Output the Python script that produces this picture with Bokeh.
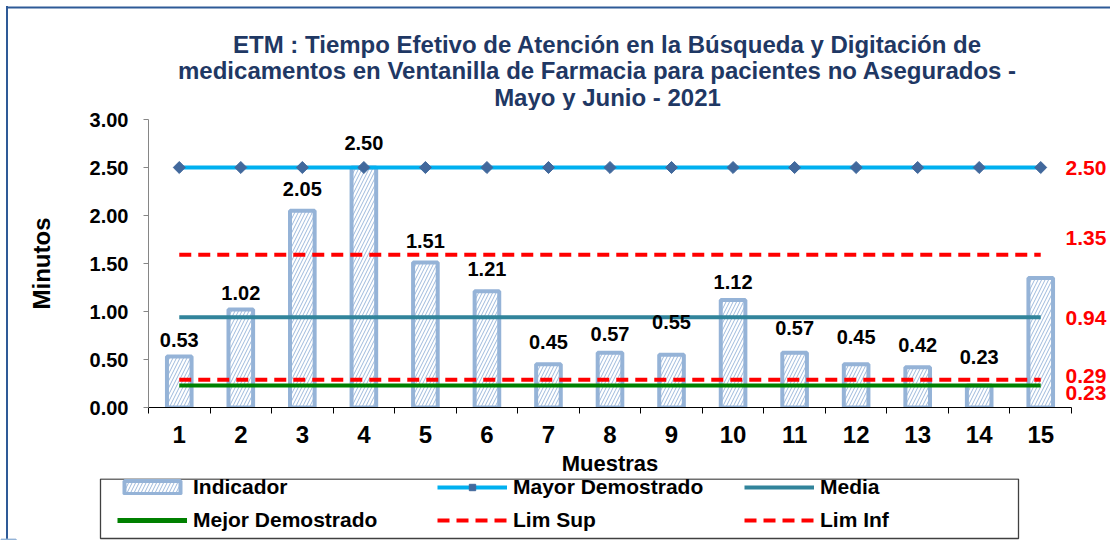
from bokeh.plotting import figure
from bokeh.layouts import column
from bokeh.models import (FixedTicker, Legend, LegendItem, ColumnDataSource, LinearAxis,
                          NumeralTickFormatter, LabelSet, Range1d)
from bokeh.core.properties import value
from bokeh.embed import file_html
from bokeh.resources import INLINE

# ---------------- data ----------------
muestras = [1, 2, 3, 4, 5, 6, 7, 8, 9, 10, 11, 12, 13, 14, 15]
indicador = [0.53, 1.02, 2.05, 2.50, 1.51, 1.21, 0.45, 0.57, 0.55, 1.12, 0.57, 0.45, 0.42, 0.23, 1.35]
indicador_labels = ["0.53", "1.02", "2.05", "2.50", "1.51", "1.21", "0.45", "0.57", "0.55",
                    "1.12", "0.57", "0.45", "0.42", "0.23", ""]
mayor_demostrado = [2.50, 2.50, 2.50, 2.50, 2.50, 2.50, 2.50, 2.50, 2.50, 2.50, 2.50, 2.50, 2.50, 2.50, 2.50]
media = [0.94, 0.94, 0.94, 0.94, 0.94, 0.94, 0.94, 0.94, 0.94, 0.94, 0.94, 0.94, 0.94, 0.94, 0.94]
mejor_demostrado = [0.23, 0.23, 0.23, 0.23, 0.23, 0.23, 0.23, 0.23, 0.23, 0.23, 0.23, 0.23, 0.23, 0.23, 0.23]
lim_sup = [1.59, 1.59, 1.59, 1.59, 1.59, 1.59, 1.59, 1.59, 1.59, 1.59, 1.59, 1.59, 1.59, 1.59, 1.59]
lim_inf = [0.29, 0.29, 0.29, 0.29, 0.29, 0.29, 0.29, 0.29, 0.29, 0.29, 0.29, 0.29, 0.29, 0.29, 0.29]
right_labels = ["2.50", "1.35", "0.94", "0.29", "0.23"]
y_ticks = [0.0, 0.5, 1.0, 1.5, 2.0, 2.5, 3.0]
title_lines = ["ETM : Tiempo Efetivo de Atención en la Búsqueda y Digitación de",
               "medicamentos en Ventanilla de Farmacia   para pacientes no Asegurados  -",
               "Mayo y Junio - 2021"]

# ---------------- placement / style (not data) ----------------
FONT = "Liberation Sans"
label_offsets = [17, 17, 22, 25, 22, 22, 22, 19, 33, 18, 25, 27, 22, 28, 22]   # px above bar tops
right_label_pos = [2.50, 1.77, 0.93, 0.33, 0.146]                             # y where the red labels sit
title_x = [607, 607, 607]
title_y = [44, 70, 97]
BAR_LINE = "#95B3D7"
BAR_HATCH = "#9DB9DC"
RED = "#FF0000"
DASH = "12 7"
FRAME_BLUE = "#2E5A97"


def strip(height, yr):
    f = figure(width=1110, height=height, output_backend="svg", toolbar_location=None, title=None,
               x_range=Range1d(0, 1110), y_range=yr, min_border=0,
               x_axis_location=None, y_axis_location=None)
    f.frame_align = False
    f.outline_line_color = None
    f.xgrid.visible = False
    f.ygrid.visible = False
    f.background_fill_color = None
    f.border_fill_color = None
    return f


# ---------------- title strip (page pixel coordinates, y downwards) ----------------
tf = strip(110, Range1d(110, 0))
tf.segment(x0=[6], y0=[7], x1=[1110], y1=[7], line_color=FRAME_BLUE, line_width=2)
tf.text(x=title_x, y=title_y, text=title_lines, text_align="center", text_baseline="middle",
        text_font=value(FONT), text_font_style="bold", text_font_size="24px",
        text_color="#1F3864")

# ---------------- main chart ----------------
p = figure(width=1110, height=368, output_backend="svg", toolbar_location=None, title=None,
           x_range=(0.5, 15.5), y_range=(0, 3.0),
           min_border_left=148, min_border_right=39, min_border_top=9, min_border_bottom=71)
p.frame_align = False
p.outline_line_color = None
p.xgrid.visible = False
p.ygrid.visible = False
p.background_fill_color = "white"
p.border_fill_color = None

src = ColumnDataSource(dict(x=muestras, top=indicador, lab=indicador_labels, off=label_offsets,
                            mayor=mayor_demostrado, media=media, mejor=mejor_demostrado,
                            sup=lim_sup, inf=lim_inf))

bar_style = dict(fill_color="white", line_color=BAR_LINE, line_width=4, hatch_pattern="/",
                 hatch_color=BAR_HATCH, hatch_scale=7, hatch_weight=1)
sup_style = dict(line_color=RED, line_width=4, line_dash=DASH)
mej_style = dict(line_color="#008000", line_width=4)
med_style = dict(line_color="#31849B", line_width=4)
may_style = dict(line_color="#00B0F0", line_width=4)
mk = dict(marker="square", size=8.5, angle=0.785398, fill_color="#41689C", line_color="#41689C")

p.vbar(x="x", top="top", width=0.40, source=src, **bar_style)
p.line("x", "sup", source=src, **sup_style)
p.line("x", "inf", source=src, **sup_style)
p.line("x", "mejor", source=src, **mej_style)
p.line("x", "media", source=src, **med_style)
p.line("x", "mayor", source=src, **may_style)
p.scatter("x", "mayor", source=src, **mk)

p.add_layout(LabelSet(x="x", y="top", text="lab", source=src, text_align="center",
                      text_baseline="middle", y_offset="off", text_font=value(FONT),
                      text_font_style="bold", text_font_size="20px", text_color="black"))

# axes
p.yaxis.ticker = FixedTicker(ticks=y_ticks)
p.yaxis.formatter = NumeralTickFormatter(format="0.00")
p.yaxis.axis_label = "Minutos"
p.yaxis.axis_line_color = "#868686"
p.yaxis.major_tick_line_color = "#868686"
p.yaxis.major_tick_in = 0
p.yaxis.major_tick_out = 5
p.yaxis.minor_tick_line_color = None
p.yaxis.major_label_standoff = 15
p.yaxis.axis_label_standoff = 32
for ax in (p.xaxis, p.yaxis):
    ax.major_label_text_font = FONT
    ax.major_label_text_font_style = "bold"
    ax.major_label_text_color = "black"
    ax.axis_label_text_font = FONT
    ax.axis_label_text_font_style = "bold"
    ax.axis_label_text_color = "black"
p.yaxis.major_label_text_font_size = "20px"
p.yaxis.axis_label_text_font_size = "24px"

p.xaxis.ticker = FixedTicker(ticks=muestras, minor_ticks=[m - 0.5 for m in muestras] + [15.5])
p.xaxis.axis_label = "Muestras"
p.xaxis.axis_line_color = "black"
p.xaxis.major_tick_line_color = None
p.xaxis.major_tick_in = 0
p.xaxis.major_tick_out = 6
p.xaxis.minor_tick_line_color = "black"
p.xaxis.minor_tick_in = 0
p.xaxis.minor_tick_out = 6
p.xaxis.major_label_standoff = 12
p.xaxis.axis_label_standoff = 5
p.xaxis.major_label_text_font_size = "24px"
p.xaxis.axis_label_text_font_size = "22px"

# red reference values on the right
rax = LinearAxis(ticker=FixedTicker(ticks=right_label_pos),
                 major_label_overrides=dict(zip(right_label_pos, right_labels)),
                 axis_line_color=None, major_tick_line_color=None, minor_tick_line_color=None,
                 major_tick_in=0, major_tick_out=0, major_label_standoff=-6,
                 major_label_text_font=FONT, major_label_text_font_style="bold",
                 major_label_text_font_size="21px", major_label_text_color=RED)
p.add_layout(rax, "right")

# ---------------- legend strip (x in page pixels) ----------------
lf = strip(62, Range1d(100, 162))
lf.quad(left=[100], right=[1018], bottom=[102], top=[161.5], fill_color="white",
        line_color="#404040", line_width=1.3)

# legend glyph renderers (same data; they fall below this strip's visible range)
g_ind = lf.vbar(x="x", top="top", width=0.4, source=src, **bar_style)
g_may_l = lf.line("x", "mayor", source=src, **may_style)
g_may_s = lf.scatter("x", "mayor", source=src, **mk)
g_med = lf.line("x", "media", source=src, **med_style)
g_mej = lf.line("x", "mejor", source=src, line_color="#008000", line_width=5)
g_sup = lf.line("x", "sup", source=src, **sup_style)
g_inf = lf.line("x", "inf", source=src, **sup_style)

leg_common = dict(orientation="vertical", glyph_width=70, glyph_height=16, label_height=20,
                  label_standoff=6, spacing=9, padding=0, margin=0,
                  border_line_color=None, background_fill_color=None,
                  label_text_font=FONT, label_text_font_style="bold",
                  label_text_font_size="21px", label_text_color="black")
cols = [
    ([("Indicador", [g_ind]), ("Mejor Demostrado", [g_mej])], 117),
    ([("Mayor Demostrado", [g_may_l, g_may_s]), ("Lim Sup", [g_sup])], 437),
    ([("Media", [g_med]), ("Lim Inf", [g_inf])], 744),
]
for items, lx in cols:
    lg = Legend(items=[LegendItem(label=n, renderers=r) for n, r in items],
                location=(lx, 8), **leg_common)
    lf.add_layout(lg, "center")

layout = column(tf, p, lf, spacing=0)
layout.styles = {"background": "linear-gradient(#2E5A97,#2E5A97) 6px 6px / 2px 100% no-repeat, white"}

open("out.html", "w").write(file_html(layout, INLINE))
